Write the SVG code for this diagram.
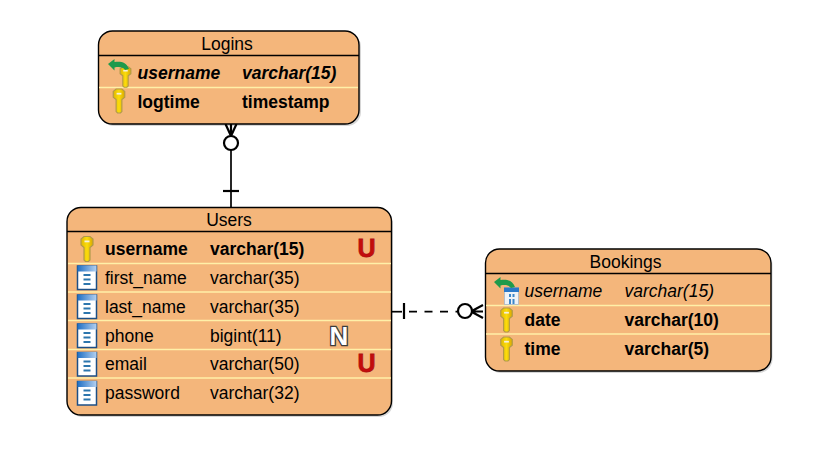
<svg xmlns="http://www.w3.org/2000/svg" width="825" height="452" viewBox="0 0 825 452">
<style>
text{font-family:"Liberation Sans",Arial,sans-serif;font-size:17.5px;fill:#000}
.b{font-weight:bold}.i{font-style:italic}.bi{font-weight:bold;font-style:italic}
.t{text-anchor:middle}
.box{fill:#f4b67b;stroke:#000;stroke-width:1.4}
.shadow{fill:#000;opacity:.16}
.h{stroke:#000;stroke-width:1.3}
.sep{stroke:#fff0a8;stroke-width:1.6}
.conn{fill:none;stroke:#000;stroke-width:1.7}
.thick{stroke-width:2.2}
.dash{stroke-dasharray:8 7.500}
.ring{fill:#fff;stroke:#000;stroke-width:2.200}
text.u{font-size:25px;font-weight:bold;text-anchor:middle;fill:#c40c0c;stroke:#b01010;stroke-width:.8}
text.n{font-size:26px;font-weight:bold;text-anchor:middle;fill:#fff;stroke:#3c3c3c;stroke-width:2.600;paint-order:stroke}
</style>
<defs>
<linearGradient id="gold" x1="0" x2="1" y1="0" y2="0"><stop offset="0" stop-color="#e0b800"/><stop offset=".5" stop-color="#fbdc0c"/><stop offset="1" stop-color="#d8a800"/></linearGradient>
<linearGradient id="blue" x1="0" x2="1" y1="0" y2="0"><stop offset="0" stop-color="#1f6fc4"/><stop offset="1" stop-color="#b4d0f0"/></linearGradient>
<g id="key">
<path d="M-3-12.500h6l3 2.500v6l-3 2.500v12.500l-1.500 1.500h-3l-1.500-1.500v-12.500l-3-2.500v-6z" fill="url(#gold)" stroke="#b09a4a" stroke-width="1.200"/>
<rect x="-2.500" y="-8.500" width="5" height="1.800" fill="#f4f0e0"/>
</g>
<g id="col">
<rect x="-9.500" y="-11.500" width="19" height="23.500" fill="#fff" stroke="#1c4f86" stroke-width="1.500"/>
<rect x="-9.500" y="-12" width="19" height="6" fill="url(#blue)"/>
<path d="M-3.500-2.500h7M-3.500 2h7M-3.500 6.500h7" stroke="#2d76ad" stroke-width="2"/>
</g>
<path id="fk" d="M-10-1l6.500-5v3c6-1 12 0 14.500 7l-4 1c-2-3-6-3.500-10.500-2.500v3z" fill="#1f9a4c"/>
</defs>
<g id="connectors">
<path class="conn" d="M231 150V207"/>
<path class="conn thick" d="M223 191H239"/>
<path class="conn thick" d="M231 136L225.500 124M231 136L236.500 124M231 136V124"/>
<circle class="ring" cx="231" cy="143" r="7"/>
<path class="conn" d="M391 311.700H402"/>
<path class="conn thick" d="M404 303V319"/>
<path class="conn dash" d="M409 311.700H458"/>
<path class="conn thick" d="M471 311.500L483 305M471 311.500L483 318M471 311.500H483"/>
<circle class="ring" cx="465" cy="311" r="7"/>
</g>
<g id="logins">
<rect class="shadow" x="100" y="33" width="261" height="93" rx="14"/>
<rect class="box" x="98.500" y="31" width="260.500" height="93" rx="14"/>
<path class="h" d="M98.500 55.500H359"/>
<path class="sep" d="M99 87.500H358"/>
<text class="t" x="227" y="49.500">Logins</text>
<use href="#key" transform="translate(125.500 77) scale(.9 .82)"/>
<use href="#fk" transform="translate(118 65)"/>
<text class="bi" x="137.500" y="79">username</text>
<text class="bi" x="242" y="79">varchar(15)</text>
<use href="#key" transform="translate(119 101) scale(.96)"/>
<text class="b" x="137.500" y="108">logtime</text>
<text class="b" x="242" y="108">timestamp</text>
</g>
<g id="users">
<rect class="shadow" x="68.500" y="209.500" width="324.500" height="207.500" rx="14"/>
<rect class="box" x="67" y="207.500" width="324.500" height="207.500" rx="14"/>
<path class="h" d="M67 231.500H391.500"/>
<path class="sep" d="M68 263.500H391M68 292H391M68 320.500H391M68 349.500H391M68 378H391"/>
<text class="t" x="229" y="225.500">Users</text>
<use href="#key" transform="translate(87 249)"/>
<text class="b" x="105" y="255">username</text>
<text class="b" x="210" y="255">varchar(15)</text>
<text class="u" x="366.500" y="257">U</text>
<use href="#col" transform="translate(87 277.500)"/>
<text x="105" y="284">first_name</text>
<text x="210" y="284">varchar(35)</text>
<use href="#col" transform="translate(87 306.500)"/>
<text x="105" y="313">last_name</text>
<text x="210" y="313">varchar(35)</text>
<use href="#col" transform="translate(87 335.500)"/>
<text x="105" y="342">phone</text>
<text x="210" y="342">bigint(11)</text>
<text class="n" x="339" y="345">N</text>
<use href="#col" transform="translate(87 364)"/>
<text x="105" y="370">email</text>
<text x="210" y="370">varchar(50)</text>
<text class="u" x="366.500" y="372">U</text>
<use href="#col" transform="translate(87 393)"/>
<text x="105" y="399">password</text>
<text x="210" y="399">varchar(32)</text>
</g>
<g id="bookings">
<rect class="shadow" x="487" y="251" width="285.500" height="122" rx="14"/>
<rect class="box" x="485.500" y="249" width="285.500" height="122" rx="14"/>
<path class="h" d="M485.500 273.500H771"/>
<path class="sep" d="M486 305.500H770M486 334H770"/>
<text class="t" x="625.500" y="268">Bookings</text>
<g transform="translate(511.500 296)"><rect x="-7" y="-8" width="14" height="16.500" fill="#eef2f6" stroke="#a9b9c9" stroke-width=".8"/><rect x="-7.500" y="-8.500" width="15" height="4.500" fill="#2a78c8"/><rect x="-2.500" y="-2" width="2" height="3" fill="#3c86c8"/><rect x="1" y="-2" width="2" height="3" fill="#3c86c8"/><rect x="-2.500" y="3" width="2" height="5" fill="#3c86c8"/><rect x="1" y="3" width="2" height="5" fill="#3c86c8"/></g>
<use href="#fk" transform="translate(504 283)"/>
<text class="i" x="524.500" y="297">username</text>
<text class="i" x="624.500" y="297">varchar(15)</text>
<use href="#key" transform="translate(506.500 320) scale(.96)"/>
<text class="b" x="524.500" y="326">date</text>
<text class="b" x="624.500" y="326">varchar(10)</text>
<use href="#key" transform="translate(506.500 349) scale(.96)"/>
<text class="b" x="524.500" y="355">time</text>
<text class="b" x="624.500" y="355">varchar(5)</text>
</g>
</svg>
